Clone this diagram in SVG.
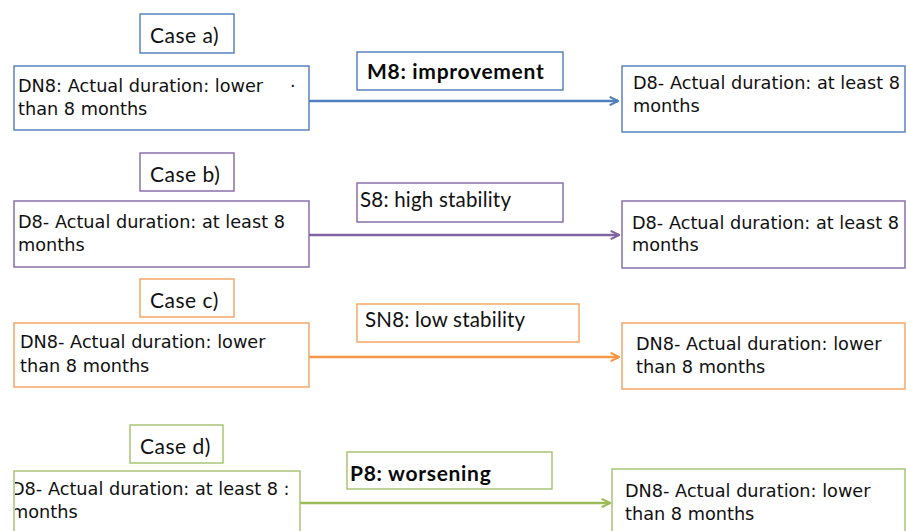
<svg xmlns="http://www.w3.org/2000/svg" width="906" height="531" viewBox="0 0 906 531">
  <style>
    .box { fill: #ffffff; stroke-width: 1.4; }
    .txt { font-family: "DejaVu Sans", "Liberation Sans", sans-serif; font-size: 17.7px; fill: #111111; }
    .case { font-family: Lato, "Liberation Sans", sans-serif; font-size: 21px; letter-spacing: 0.5px; fill: #111111; }
    .lbl { font-family: Lato, "Liberation Sans", sans-serif; font-size: 20.5px; letter-spacing: 0.2px; fill: #111111; }
    .lblb { font-family: Lato, "Liberation Sans", sans-serif; font-size: 21px; font-weight: bold; letter-spacing: 0.7px; fill: #0a0a0a; }
    .blue { stroke: #4f7dba; }
    .purple { stroke: #8466a6; }
    .orange { stroke: #f3a25f; }
    .green { stroke: #a3c06b; }
    .conn { fill: none; stroke-width: 2.6; }
  </style>
  <defs>
    <marker id="arrBlue" viewBox="0 0 10 10" refX="9" refY="5" markerWidth="4" markerHeight="4" orient="auto" markerUnits="strokeWidth">
      <path d="M1,1 L9,5 L1,9" fill="none" stroke="#4f81bd" stroke-width="2"/>
    </marker>
    <marker id="arrPurple" viewBox="0 0 10 10" refX="9" refY="5" markerWidth="4" markerHeight="4" orient="auto" markerUnits="strokeWidth">
      <path d="M1,1 L9,5 L1,9" fill="none" stroke="#8064a2" stroke-width="2"/>
    </marker>
    <marker id="arrOrange" viewBox="0 0 10 10" refX="9" refY="5" markerWidth="4" markerHeight="4" orient="auto" markerUnits="strokeWidth">
      <path d="M1,1 L9,5 L1,9" fill="none" stroke="#f79646" stroke-width="2"/>
    </marker>
    <marker id="arrGreen" viewBox="0 0 10 10" refX="9" refY="5" markerWidth="4" markerHeight="4" orient="auto" markerUnits="strokeWidth">
      <path d="M1,1 L9,5 L1,9" fill="none" stroke="#9bbb59" stroke-width="2"/>
    </marker>
    <clipPath id="clipD">
      <rect x="15" y="471" width="285" height="70"/>
    </clipPath>
  </defs>

  <!-- connectors -->
  <g id="connectors">
    <line class="conn" x1="309" y1="101" x2="618" y2="101" stroke="#4f81bd" marker-end="url(#arrBlue)"/>
    <line class="conn" x1="309" y1="235" x2="619" y2="235" stroke="#8064a2" marker-end="url(#arrPurple)"/>
    <line class="conn" x1="309" y1="357" x2="619" y2="357" stroke="#f79646" marker-end="url(#arrOrange)"/>
    <line class="conn" x1="300" y1="503" x2="610" y2="503" stroke="#9bbb59" marker-end="url(#arrGreen)"/>
  </g>

  <!-- case a -->
  <g id="caseA">
    <rect class="box blue" x="140" y="14" width="94" height="39"/>
    <text class="case" x="150" y="43">Case a)</text>
  </g>
  <g id="a-from">
    <rect class="box blue" x="14" y="66" width="295" height="64"/>
    <text class="txt" x="18" y="92">DN8: Actual duration: lower</text>
    <text class="txt" x="18" y="115">than 8 months</text>
    <text class="txt" x="290" y="92">·</text>
  </g>
  <g id="a-label">
    <rect class="box blue" x="357" y="52" width="206" height="38"/>
    <text class="lblb" x="367" y="79">M8: improvement</text>
  </g>
  <g id="a-to">
    <rect class="box blue" x="622" y="66" width="283" height="66"/>
    <text class="txt" x="633" y="89">D8- Actual duration: at least 8</text>
    <text class="txt" x="633" y="112">months</text>
  </g>

  <!-- case b -->
  <g id="caseB">
    <rect class="box purple" x="140" y="153" width="94" height="38"/>
    <text class="case" x="150" y="182">Case b)</text>
  </g>
  <g id="b-from">
    <rect class="box purple" x="14" y="201" width="295" height="66"/>
    <text class="txt" x="18" y="228">D8- Actual duration: at least 8</text>
    <text class="txt" x="18" y="251">months</text>
  </g>
  <g id="b-label">
    <rect class="box purple" x="357" y="183" width="206" height="39"/>
    <text class="lbl" x="360" y="207">S8: high stability</text>
  </g>
  <g id="b-to">
    <rect class="box purple" x="622" y="201" width="283" height="67"/>
    <text class="txt" x="632" y="229">D8- Actual duration: at least 8</text>
    <text class="txt" x="632" y="251">months</text>
  </g>

  <!-- case c -->
  <g id="caseC">
    <rect class="box orange" x="140" y="279" width="94" height="38"/>
    <text class="case" x="150" y="308">Case c)</text>
  </g>
  <g id="c-from">
    <rect class="box orange" x="14" y="323" width="295" height="64"/>
    <text class="txt" x="20" y="348">DN8- Actual duration: lower</text>
    <text class="txt" x="20" y="372">than 8 months</text>
  </g>
  <g id="c-label">
    <rect class="box orange" x="357" y="304" width="222" height="38"/>
    <text class="lbl" x="365" y="327">SN8: low stability</text>
  </g>
  <g id="c-to">
    <rect class="box orange" x="622" y="323" width="283" height="66"/>
    <text class="txt" x="636" y="350">DN8- Actual duration: lower</text>
    <text class="txt" x="636" y="373">than 8 months</text>
  </g>

  <!-- case d -->
  <g id="caseD">
    <rect class="box green" x="130" y="425" width="93" height="38"/>
    <text class="case" x="140" y="454">Case d)</text>
  </g>
  <g id="d-from">
    <rect class="box green" x="14" y="471" width="286" height="70" stroke-width="2"/>
    <g clip-path="url(#clipD)">
      <text class="txt" x="11" y="495">D8- Actual duration: at least 8 :</text>
      <text class="txt" x="11" y="518">months</text>
    </g>
  </g>
  <g id="d-label">
    <rect class="box green" x="347" y="452" width="205" height="37"/>
    <text class="lblb" x="350" y="481">P8: worsening</text>
  </g>
  <g id="d-to">
    <rect class="box green" x="612" y="469" width="293" height="72"/>
    <text class="txt" x="625" y="497">DN8- Actual duration: lower</text>
    <text class="txt" x="625" y="520">than 8 months</text>
  </g>
</svg>
